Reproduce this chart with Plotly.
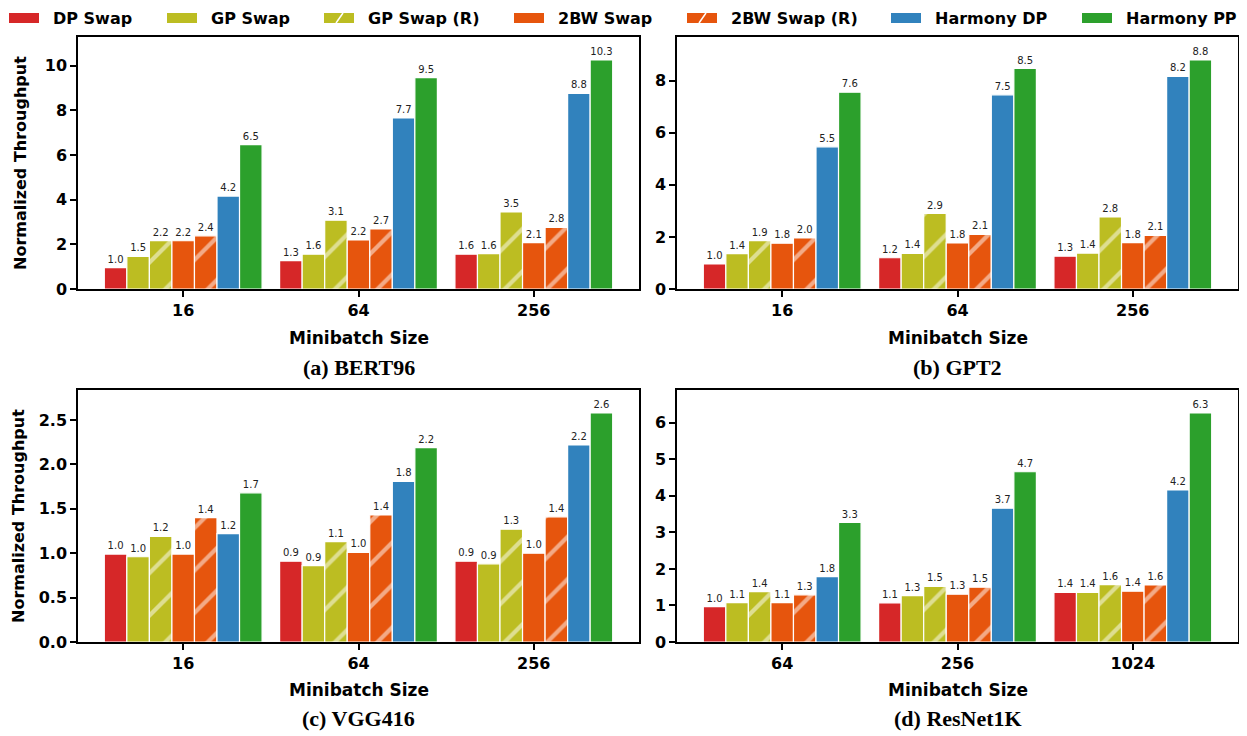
import plotly.graph_objects as go

series = ["DP Swap", "GP Swap", "GP Swap (R)", "2BW Swap", "2BW Swap (R)", "Harmony DP", "Harmony PP"]
colors = ["#d62728", "#bcbd22", "#bcbd22", "#e6550d", "#e6550d", "#3182bd", "#2ca02c"]
hatched = [False, False, True, False, True, False, False]

bert_batches = ["16", "64", "256"]
bert_vals = [
    [0.96, 1.27, 1.56],
    [1.46, 1.56, 1.58],
    [2.17, 3.08, 3.45],
    [2.16, 2.20, 2.08],
    [2.38, 2.69, 2.76],
    [4.16, 7.66, 8.76],
    [6.47, 9.47, 10.26],
]
gpt_batches = ["16", "64", "256"]
gpt_vals = [
    [0.96, 1.20, 1.26],
    [1.36, 1.37, 1.38],
    [1.86, 2.90, 2.77],
    [1.76, 1.77, 1.78],
    [1.96, 2.10, 2.06],
    [5.46, 7.46, 8.17],
    [7.56, 8.47, 8.80],
]
vgg_batches = ["16", "64", "256"]
vgg_vals = [
    [0.99, 0.91, 0.91],
    [0.96, 0.86, 0.88],
    [1.19, 1.13, 1.27],
    [0.99, 1.01, 1.00],
    [1.40, 1.43, 1.41],
    [1.22, 1.81, 2.22],
    [1.68, 2.19, 2.58],
]
resnet_batches = ["64", "256", "1024"]
resnet_vals = [
    [0.97, 1.07, 1.36],
    [1.08, 1.27, 1.36],
    [1.38, 1.52, 1.57],
    [1.08, 1.31, 1.39],
    [1.29, 1.50, 1.56],
    [1.79, 3.66, 4.16],
    [3.27, 4.66, 6.27],
]

panels = [
    ("(a) BERT96", bert_batches, bert_vals),
    ("(b) GPT2", gpt_batches, gpt_vals),
    ("(c) VGG416", vgg_batches, vgg_vals),
    ("(d) ResNet1K", resnet_batches, resnet_vals),
]

# legend entry left edges (screen pixels)
legend_x = [9, 167, 324, 514, 687, 891, 1082]

# the page body has an 8px margin; the figure is placed at (8, 8)
OFF = 8
W, H = 1247 - OFF, 736 - OFF
def px(x): return (x - OFF) / W
def py(y): return 1 - (y - OFF) / H

xdoms = [[px(78), px(639)], [px(677), px(1238)]]
ydoms = [[py(289), py(37)], [py(642), py(390)]]
xtitle_y = [338, 690]
ytitle_x = [21, 18]
caption_y = [367, 718]

fig = go.Figure()
bold = dict(family="DejaVu Sans", size=16, color="black", weight="bold")
title_font = dict(family="DejaVu Sans", size=17, color="black", weight="bold")

for i, (title, cats, vals) in enumerate(panels):
    row, col = divmod(i, 2)
    suffix = "" if i == 0 else str(i + 1)
    for s, name in enumerate(series):
        fig.add_trace(go.Bar(
            x=cats, y=vals[s], name=name, showlegend=False,
            xaxis="x" + suffix, yaxis="y" + suffix,
            marker=dict(
                color=colors[s],
                line=dict(color="white", width=1.2),
                pattern=dict(shape="/" if hatched[s] else "", fgcolor="white",
                             bgcolor=colors[s], size=30, solidity=0.14),
            ),
            texttemplate="%{y:.1f}", textposition="outside",
            textfont=dict(family="DejaVu Sans", size=10, color="#222222"),
            constraintext="none", cliponaxis=False,
        ))
    ymax = max(max(v) for v in vals) * 1.1
    fig.layout["xaxis" + suffix] = dict(
        domain=xdoms[col], anchor="y" + suffix, type="category", automargin=False,
        range=[-0.6, 2.6], showline=True, mirror=True, linecolor="black", linewidth=1.5,
        ticks="outside", ticklen=6, tickwidth=1.5, tickcolor="black",
        tickfont=bold, showgrid=False,
    )
    ydict = dict(
        domain=ydoms[row], anchor="x" + suffix, range=[0, ymax], automargin=False,
        showline=True, mirror=True, linecolor="black", linewidth=1.5,
        ticks="outside", ticklen=6, tickwidth=1.5, tickcolor="black",
        tickfont=bold, showgrid=False, zeroline=False,
    )
    if i == 1:
        ydict["tickmode"] = "array"; ydict["tickvals"] = [0, 2, 4, 6, 8]
    if i == 2:
        ydict["dtick"] = 0.5; ydict["tickformat"] = ".1f"
    if i == 3:
        ydict["dtick"] = 1
    fig.layout["yaxis" + suffix] = ydict
    cx = (xdoms[col][0] + xdoms[col][1]) / 2
    fig.add_annotation(text="Minibatch Size", x=cx, y=py(xtitle_y[row]), xref="paper", yref="paper",
                       showarrow=False, xanchor="center", yanchor="middle", font=title_font)
    if col == 0:
        cy = (ydoms[row][0] + ydoms[row][1]) / 2
        fig.add_annotation(text="Normalized Throughput", x=px(ytitle_x[row]), y=cy,
                           xref="paper", yref="paper", textangle=-90,
                           showarrow=False, xanchor="center", yanchor="middle",
                           font=dict(family="DejaVu Sans", size=16, color="black", weight="bold"))
    fig.add_annotation(text=title, x=cx, y=py(caption_y[row]), xref="paper", yref="paper",
                       showarrow=False, xanchor="center", yanchor="middle",
                       font=dict(family="Liberation Serif", size=22, color="black", weight="bold"))

# manual legend (swatch + label)
for s, name in enumerate(series):
    x0 = legend_x[s]
    fig.add_shape(type="rect", xref="paper", yref="paper",
                  x0=px(x0), x1=px(x0 + 30), y0=py(23), y1=py(13),
                  fillcolor=colors[s], line=dict(width=0))
    if hatched[s]:
        fig.add_shape(type="line", xref="paper", yref="paper",
                      x0=px(x0 + 12), y0=py(23), x1=px(x0 + 19), y1=py(13),
                      line=dict(color="white", width=1.5))
    fig.add_annotation(text=name, x=px(x0 + 43), y=1.0, xref="paper", yref="paper",
                       showarrow=False, xanchor="left", yanchor="top", borderpad=0,
                       font=dict(family="DejaVu Sans", size=16, color="black", weight="bold"))

fig.update_layout(
    width=W, height=H, margin=dict(l=0, r=0, t=0, b=0, autoexpand=False),
    plot_bgcolor="white", paper_bgcolor="white",
    barmode="group", bargap=0.1, bargroupgap=0.0, showlegend=False,
)

fig.write_html("out.html")
